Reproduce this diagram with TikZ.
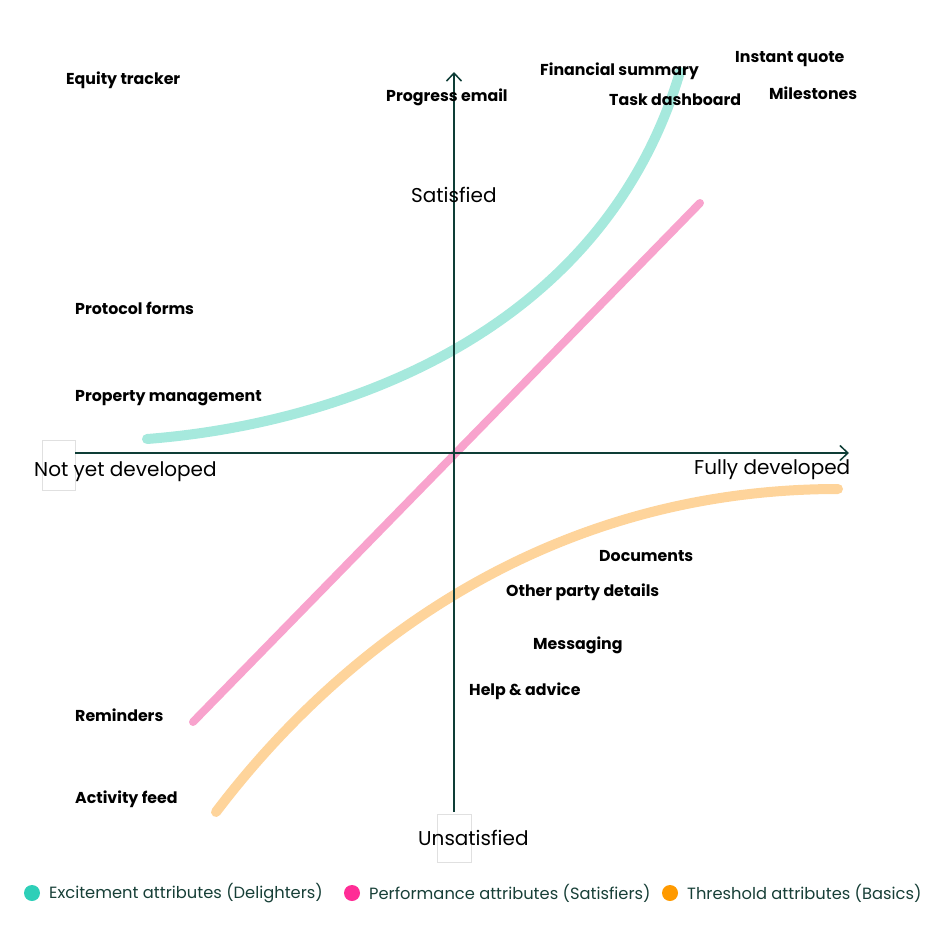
\documentclass[tikz,border=0pt]{standalone}
\usepackage{fontspec}
\setmainfont{Poppins}
\usetikzlibrary{arrows.meta}
\definecolor{axisgreen}{HTML}{0E3D36}
\definecolor{tealc}{HTML}{A6E9DD}
\definecolor{pinkc}{HTML}{F8A3CD}
\definecolor{orangec}{HTML}{FED49B}
\definecolor{tealdot}{HTML}{2ECFB8}
\definecolor{pinkdot}{HTML}{FF2D96}
\definecolor{orangedot}{HTML}{FF9A00}
\definecolor{legtext}{HTML}{173F37}
\tikzset{
  feat/.style={anchor=west, inner sep=0pt, yshift=-2pt, font=\bfseries\fontsize{15.8}{18}\selectfont, text=black},
  axlabel/.style={anchor=west, inner sep=0pt, yshift=-2pt, font=\fontsize{20}{24}\selectfont, text=black},
  leg/.style={anchor=west, inner sep=0pt, yshift=-1pt, font=\fontsize{16.3}{19}\selectfont, text=legtext},
  curve/.style={line width=10pt, line cap=round},
  axis/.style={draw=axisgreen, line width=1.5pt, -{Straight Barb[length=8pt,width=15pt,line width=1.5pt]}},
  ghost/.style={draw=black!12, line width=0.6pt}
}
\begin{document}
\begin{tikzpicture}[x=1pt,y=-1pt]
\useasboundingbox (0,0) rectangle (948,942);
% faint boxes
\draw[ghost] (42,440) rectangle (75,490);
\draw[ghost] (437,814) rectangle (471,862);
% curves
\draw[curve, tealc] (147,439) .. controls (330,425) and (600,340) .. (680,72);
\draw[curve, pinkc, line width=8pt] (193,722) -- (700,203);
\draw[curve, orangec] (216,812) .. controls (335,655) and (540,489) .. (838,489);
% axes
\coordinate (xl) at (75,453);
\coordinate (xr) at (849,453);
\coordinate (yb) at (454,812);
\coordinate (yt) at (454,72);
\draw[axis] (xl) -- (xr);
\draw[axis] (yb) -- (yt);
% axis labels
\node[axlabel] (sat) at (411,193) {Satisfied};
\node[axlabel] (unsat) at (418,836) {Unsatisfied};
\node[axlabel] (nyd) at (34,470) {Not yet developed};
\node[axlabel] (fd) at (694,468) {Fully developed};
% features
\node[feat] (eq) at (66,78) {Equity tracker};
\node[feat] (pe) at (386,95) {Progress email};
\node[feat] (fs) at (540,69) {Financial summary};
\node[feat] (td) at (609,98) {Task dashboard};
\node[feat] (iq) at (735,57) {Instant quote};
\node[feat] (ms) at (769,91) {Milestones};
\node[feat] (pf) at (75,306) {Protocol forms};
\node[feat] (pm) at (75,396) {Property management};
\node[feat] (doc) at (599,554) {Documents};
\node[feat] (opd) at (506,590) {Other party details};
\node[feat] (msg) at (533,643) {Messaging};
\node[feat] (ha) at (469,689) {Help \& advice};
\node[feat] (rem) at (75,713) {Reminders};
\node[feat] (af) at (75,797) {Activity feed};
% legend
\fill[tealdot] (32,893) circle (8);
\node[leg] (l1) at (49,892) {Excitement attributes (Delighters)};
\fill[pinkdot] (352,893) circle (8);
\node[leg] (l2) at (369,892) {Performance attributes (Satisfiers)};
\fill[orangedot] (670,893) circle (8);
\node[leg] (l3) at (687,892) {Threshold attributes (Basics)};
\end{tikzpicture}
\end{document}
